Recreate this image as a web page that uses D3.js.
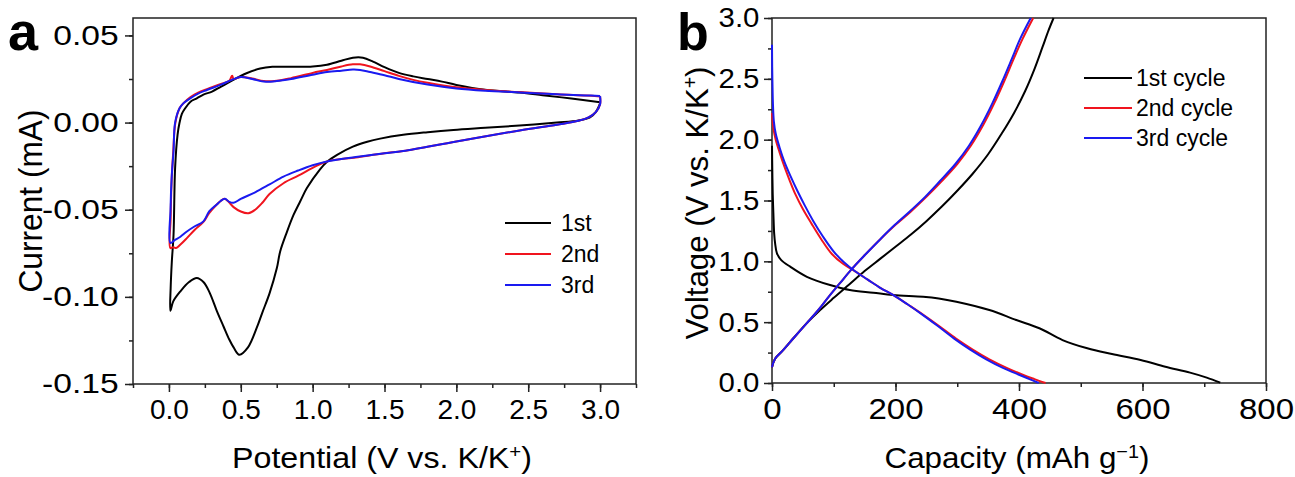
<!DOCTYPE html>
<html>
<head>
<meta charset="utf-8">
<title>CV and charge-discharge</title>
<script src="https://cdnjs.cloudflare.com/ajax/libs/d3/7.8.5/d3.min.js"></script>
<style>
  body { margin: 0; background: #fff; }
  text { font-family: "Liberation Sans", Arial, sans-serif; fill: #000; }
</style>
</head>
<body>
<svg width="1295" height="477" id="mainsvg"></svg>
<script>
// ---- panel a: cyclic voltammetry, [potential (V), current (mA)] ----
const cvNames = ['1st', '2nd', '3rd'];
const cv1Cathodic = [[3.0,0.011],[2.97,0.006],[2.93,0.003],[2.85,0.0012],[2.7,0.0],[2.44,-0.0017],[2.2,-0.003],[1.98,-0.0042],[1.8,-0.0055],[1.63,-0.007],[1.47,-0.0092],[1.38,-0.011],[1.28,-0.0138],[1.17,-0.0185],[1.1,-0.0225],[1.05,-0.027],[0.96,-0.0376],[0.913,-0.0453],[0.867,-0.053],[0.82,-0.063],[0.774,-0.074],[0.751,-0.0835],[0.7,-0.098],[0.65,-0.109],[0.61,-0.118],[0.55,-0.129],[0.49,-0.1332],[0.45,-0.129],[0.42,-0.1245],[0.38,-0.117],[0.333,-0.108],[0.28,-0.097],[0.24,-0.0915],[0.194,-0.0892],[0.14,-0.0915],[0.08,-0.0968],[0.03,-0.1026],[0.01,-0.108]];
const cv1Anodic = [[0.012,-0.095],[0.02,-0.08],[0.032,-0.0644],[0.043,-0.026],[0.06,-0.007],[0.074,0.0],[0.09,0.005],[0.113,0.0082],[0.15,0.012],[0.194,0.0139],[0.24,0.016],[0.3,0.0178],[0.36,0.0205],[0.426,0.0235],[0.54,0.0283],[0.635,0.031],[0.72,0.032],[0.88,0.032],[1.0,0.0322],[1.1,0.0332],[1.2,0.0355],[1.28,0.0372],[1.35,0.0372],[1.42,0.035],[1.5,0.0318],[1.6,0.0285],[1.7,0.0265],[1.8,0.025],[1.9,0.0235],[2.0,0.0216],[2.2,0.0188],[2.44,0.0172],[2.6,0.0157],[2.8,0.0138],[3.0,0.0116]];
const cv2Cathodic = [[3.0,0.015],[3.0,0.0105],[2.97,0.006],[2.92,0.003],[2.85,0.001],[2.7,-0.0012],[2.44,-0.0045],[2.0,-0.0108],[1.63,-0.0163],[1.5,-0.0176],[1.3,-0.02],[1.1,-0.0223],[1.0,-0.026],[0.9,-0.0305],[0.797,-0.0348],[0.7,-0.041],[0.65,-0.046],[0.6,-0.05],[0.553,-0.052],[0.5,-0.051],[0.45,-0.0485],[0.41,-0.045],[0.385,-0.0437],[0.36,-0.045],[0.333,-0.047],[0.28,-0.052],[0.24,-0.057],[0.18,-0.0615],[0.125,-0.0663],[0.08,-0.07],[0.05,-0.072],[0.03,-0.0715],[0.01,-0.072]];
const cv2Anodic = [[0.012,-0.055],[0.018,-0.035],[0.03,-0.0166],[0.045,0.0],[0.074,0.0082],[0.1,0.011],[0.148,0.0145],[0.2,0.017],[0.264,0.0192],[0.357,0.022],[0.42,0.024],[0.44,0.0269],[0.45,0.025],[0.5,0.0262],[0.58,0.0253],[0.66,0.0238],[0.75,0.024],[0.85,0.0255],[1.0,0.0285],[1.1,0.0302],[1.2,0.0322],[1.28,0.0334],[1.33,0.0334],[1.4,0.0322],[1.5,0.0295],[1.6,0.0268],[1.7,0.0245],[1.8,0.0228],[2.0,0.0202],[2.2,0.0187],[2.44,0.0175],[2.7,0.0162],[2.9,0.0155],[3.0,0.015]];
const cv3Cathodic = [[3.0,0.0152],[3.0,0.0105],[2.97,0.006],[2.92,0.003],[2.85,0.001],[2.7,-0.0012],[2.44,-0.0045],[2.0,-0.0108],[1.63,-0.0163],[1.5,-0.0176],[1.3,-0.0198],[1.1,-0.0223],[1.0,-0.0245],[0.9,-0.0275],[0.797,-0.031],[0.7,-0.0355],[0.6,-0.04],[0.5,-0.0438],[0.45,-0.046],[0.42,-0.0455],[0.39,-0.0437],[0.36,-0.045],[0.333,-0.047],[0.28,-0.051],[0.24,-0.0567],[0.18,-0.0595],[0.125,-0.0625],[0.08,-0.0655],[0.04,-0.0675],[0.01,-0.069]];
const cv3Anodic = [[0.011,-0.05],[0.02,-0.03],[0.032,-0.0166],[0.043,0.0],[0.074,0.0082],[0.1,0.011],[0.148,0.0139],[0.2,0.0165],[0.264,0.0187],[0.357,0.0216],[0.438,0.0245],[0.5,0.0262],[0.58,0.025],[0.658,0.0235],[0.75,0.0238],[0.85,0.025],[1.0,0.0275],[1.1,0.029],[1.2,0.0298],[1.28,0.0304],[1.33,0.0302],[1.4,0.029],[1.5,0.0272],[1.6,0.025],[1.8,0.0218],[2.0,0.0196],[2.2,0.0183],[2.44,0.0173],[2.7,0.0162],[2.9,0.0156],[3.0,0.0152]];
const cvXTicks = [0, 0.5, 1.0, 1.5, 2.0, 2.5, 3.0];
const cvYTicks = [-0.15, -0.10, -0.05, 0.00, 0.05];

// ---- panel b: galvanostatic profiles, [capacity (mAh/g), voltage (V)] ----
const gcdNames = ['1st cycle', '2nd cycle', '3rd cycle'];
const gcd1Discharge = [[0,1.95],[0.5,1.75],[1.2,1.55],[2.2,1.4],[3.5,1.23],[5,1.15],[8,1.066],[15,1.01],[29.5,0.956],[56.5,0.873],[94,0.805],[126,0.764],[164,0.742],[196,0.723],[244.7,0.709],[270,0.695],[298.6,0.668],[352,0.6],[395.5,0.518],[433,0.45],[470.5,0.353],[510.6,0.285],[550.6,0.238],[597,0.189],[637,0.134],[677,0.085],[704,0.044],[726,0.003]];
const gcd1Charge = [[0,0.13],[5,0.2],[18,0.27],[35,0.37],[56,0.49],[78,0.6],[100,0.7],[125,0.81],[150,0.92],[175,1.02],[200,1.12],[225,1.22],[250,1.33],[275,1.45],[300,1.58],[325,1.72],[350,1.88],[372,2.05],[392,2.22],[410,2.4],[425,2.58],[438,2.76],[448,2.9],[456,3.0]];
const gcd2Discharge = [[0,2.22],[1,2.15],[3,2.07],[6,2.0],[12,1.9],[20,1.78],[29,1.66],[38,1.55],[50,1.43],[64,1.31],[80,1.18],[97,1.06],[115,0.98],[134,0.92],[155,0.85],[176,0.78],[196,0.725],[220,0.645],[245,0.56],[270,0.47],[298,0.365],[325,0.275],[352,0.195],[380,0.125],[406,0.068],[425,0.032],[443,0.0]];
const gcd2Charge = [[0,0.13],[5,0.2],[18,0.27],[35,0.37],[56,0.49],[75,0.6],[92,0.71],[110,0.82],[128,0.93],[150,1.05],[175,1.18],[200,1.3],[225,1.41],[250,1.53],[275,1.66],[300,1.8],[322,1.95],[342,2.12],[360,2.3],[376,2.48],[391,2.66],[406,2.83],[423,3.0]];
const gcd3Discharge = [[0,2.78],[0.3,2.6],[0.8,2.45],[1.5,2.3],[3,2.15],[6,2.05],[12,1.94],[20,1.82],[30,1.7],[41,1.58],[53,1.46],[67,1.33],[83,1.2],[100,1.08],[117,0.99],[134,0.92],[155,0.85],[176,0.78],[196,0.725],[220,0.645],[244,0.56],[268,0.47],[295,0.365],[321,0.275],[347,0.195],[374,0.125],[400,0.068],[417,0.032],[432,0.0]];
const gcd3Charge = [[0,0.13],[5,0.2],[18,0.27],[35,0.37],[56,0.49],[75,0.6],[92,0.71],[110,0.82],[128,0.93],[150,1.05],[175,1.18],[199,1.3],[223,1.41],[248,1.53],[272,1.66],[297,1.8],[319,1.95],[339,2.12],[357,2.3],[373,2.48],[388,2.66],[402,2.83],[419,3.0]];
const gcdXTicks = [0, 200, 400, 600, 800];
const gcdYTicks = [0.0, 0.5, 1.0, 1.5, 2.0, 2.5, 3.0];

const colors = ['#000000', '#f0141e', '#1a1af0'];

const svg = d3.select('#mainsvg');

// frame, major/minor ticks and labels for one panel
const drawFrame = function(g, x, y, opt){
  const [x0, x1] = x.range();
  const [y0, y1] = y.range();
  g.append('g').attr('transform', `translate(0,${y0})`)
    .call(d3.axisBottom(x).tickValues(opt.xMinor).tickSize(4).tickFormat(''));
  g.append('g').attr('transform', `translate(${x0},0)`)
    .call(d3.axisLeft(y).tickValues(opt.yMinor).tickSize(4).tickFormat(''));
  const gx = g.append('g').attr('transform', `translate(0,${y0})`)
    .call(d3.axisBottom(x).tickValues(opt.xTicks).tickSize(8).tickPadding(7).tickFormat(opt.xFmt));
  const gy = g.append('g').attr('transform', `translate(${x0},0)`)
    .call(d3.axisLeft(y).tickValues(opt.yTicks).tickSize(8).tickPadding(4).tickFormat(opt.yFmt));
  gx.selectAll('text').attr('font-size', opt.xFont).attr('transform', `scale(${opt.xStretch},1)`);
  gy.selectAll('text').attr('font-size', opt.yFont).attr('transform', `scale(${opt.yStretch},1)`);
  g.selectAll('.domain').remove();
  g.selectAll('.tick line').attr('stroke', '#222').attr('stroke-width', 1.5);
  g.selectAll('g').attr('font-family', null);
  g.append('rect')
    .attr('x', x0).attr('y', y1).attr('width', x1 - x0).attr('height', y0 - y1)
    .attr('fill', 'none').attr('stroke', '#222').attr('stroke-width', 1.5);
};

const drawLegend = function(g, names, x, y, dy, len, gap){
  names.forEach((n, i) => {
    g.append('line').attr('x1', x).attr('x2', x + len)
      .attr('y1', y + i * dy).attr('y2', y + i * dy)
      .attr('stroke', colors[i]).attr('stroke-width', 2);
    g.append('text').attr('x', x + len + gap).attr('y', y + i * dy + 8)
      .attr('font-size', 23).text(n);
  });
};

// ---- panel a ----
const ga = svg.append('g');
const xa = d3.scaleLinear().domain([-0.25, 3.25]).range([133, 636]);
const ya = d3.scaleLinear().domain([-0.15, 0.06]).range([384, 18]);
drawFrame(ga, xa, ya, {
  xTicks: cvXTicks, yTicks: cvYTicks,
  xMinor: d3.range(-0.25, 3.26, 0.25), yMinor: d3.range(-0.15, 0.061, 0.025),
  xFmt: d => d.toFixed(1), yFmt: d => d.toFixed(2),
  xFont: 28, xStretch: 1.0, yFont: 28, yStretch: 1.2
});

const lineA = d3.line().x(d => xa(d[0])).y(d => ya(d[1])).curve(d3.curveCatmullRom.alpha(0.5));
const cvLoops = [cv1Cathodic.concat(cv1Anodic), cv2Cathodic.concat(cv2Anodic), cv3Cathodic.concat(cv3Anodic)];
[0, 1, 2].forEach(i => {
  ga.append('path').datum(cvLoops[i]).attr('d', lineA)
    .attr('fill', 'none').attr('stroke', colors[i]).attr('stroke-width', 2);
});
drawLegend(ga, cvNames, 505, 223, 31, 46, 10);

ga.append('text').attr('x', 382).attr('y', 468).attr('text-anchor', 'middle')
  .attr('font-size', 30).attr('textLength', 300).attr('lengthAdjust', 'spacingAndGlyphs')
  .html('Potential (V vs. K/K<tspan baseline-shift="super" font-size="19">+</tspan>)');
ga.append('text').attr('transform', 'translate(42,201) rotate(-90)').attr('text-anchor', 'middle')
  .attr('font-size', 33).attr('textLength', 183).attr('lengthAdjust', 'spacingAndGlyphs')
  .text('Current (mA)');
ga.append('text').attr('x', 8).attr('y', 50).attr('font-size', 54).attr('font-weight', 'bold').text('a');

// ---- panel b ----
const gb = svg.append('g');
const xb = d3.scaleLinear().domain([0, 800]).range([772, 1266]);
const yb = d3.scaleLinear().domain([0, 3]).range([383, 18]);
drawFrame(gb, xb, yb, {
  xTicks: gcdXTicks, yTicks: gcdYTicks,
  xMinor: d3.range(0, 801, 100), yMinor: d3.range(0, 3.01, 0.25),
  xFont: 30, xStretch: 1.1, yFont: 28, yStretch: 1.05,
  xFmt: d => d, yFmt: d => d.toFixed(1)
});

const lineB = d3.line().x(d => xb(d[0])).y(d => yb(d[1])).curve(d3.curveCatmullRom.alpha(0.5));
const gcdCurves = [[gcd1Discharge, gcd1Charge], [gcd2Discharge, gcd2Charge], [gcd3Discharge, gcd3Charge]];
[0, 1, 2].forEach(i => {
  gcdCurves[i].forEach(c => {
    gb.append('path').datum(c).attr('d', lineB)
      .attr('fill', 'none').attr('stroke', colors[i]).attr('stroke-width', 2);
  });
});
drawLegend(gb, gcdNames, 1084, 78, 30, 48, 4);

gb.append('text').attr('x', 1017).attr('y', 468).attr('text-anchor', 'middle')
  .attr('font-size', 30).attr('textLength', 265).attr('lengthAdjust', 'spacingAndGlyphs')
  .html('Capacity (mAh g<tspan baseline-shift="super" font-size="19">\u22121</tspan>)');
gb.append('text').attr('transform', 'translate(708,203) rotate(-90)').attr('text-anchor', 'middle')
  .attr('font-size', 32).attr('textLength', 273).attr('lengthAdjust', 'spacingAndGlyphs')
  .html('Voltage (V vs. K/K<tspan baseline-shift="super" font-size="20">+</tspan>)');
gb.append('text').attr('x', 677).attr('y', 50).attr('font-size', 52).attr('font-weight', 'bold').text('b');
</script>
</body>
</html>
